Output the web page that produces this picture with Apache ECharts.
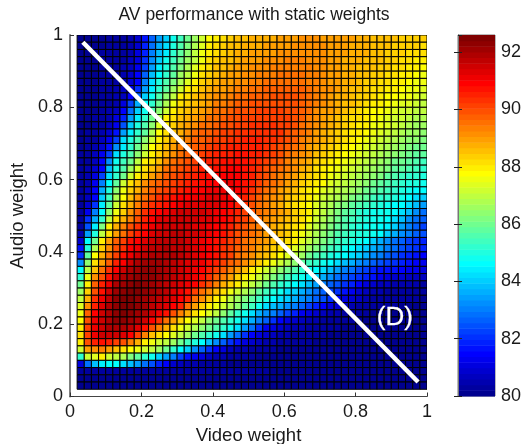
<!DOCTYPE html>
<html><head><meta charset="utf-8">
<style>html,body{margin:0;padding:0;background:#fff}#c{width:525px;height:444px}</style>
<script src="https://cdn.jsdelivr.net/npm/echarts@6/dist/echarts.min.js"></script>
</head><body><div id="c"></div>
<script>
const videoWeights=[0.04,0.06,0.08,0.10,0.12,0.14,0.16,0.18,0.20,0.22,0.24,0.26,0.28,0.30,0.32,0.34,0.36,0.38,0.40,0.42,0.44,0.46,0.48,0.50,0.52,0.54,0.56,0.58,0.60,0.62,0.64,0.66,0.68,0.70,0.72,0.74,0.76,0.78,0.80,0.82,0.84,0.86,0.88,0.90,0.92,0.94,0.96,0.98,1.00];
const audioWeights=[1.00,0.98,0.96,0.94,0.92,0.90,0.88,0.86,0.84,0.82,0.80,0.78,0.76,0.74,0.72,0.70,0.68,0.66,0.64,0.62,0.60,0.58,0.56,0.54,0.52,0.50,0.48,0.46,0.44,0.42,0.40,0.38,0.36,0.34,0.32,0.30,0.28,0.26,0.24,0.22,0.20,0.18,0.16,0.14,0.12,0.10,0.08,0.06,0.04];
const performance=[
[80.1,80.1,80.1,80.1,80.2,80.2,80.3,80.4,80.8,81.6,82.7,83.5,84.0,84.8,85.5,86.1,86.6,87.2,87.7,88.0,88.2,88.4,88.5,88.6,88.7,88.7,88.8,88.8,88.9,88.9,89.0,89.1,89.1,89.1,89.0,89.0,89.0,88.9,88.9,88.8,88.7,88.6,88.6,88.5,88.5,88.4,88.4,88.3,88.3],
[80.1,80.1,80.1,80.1,80.2,80.2,80.3,80.5,80.9,81.8,82.9,83.7,84.3,85.0,85.6,86.2,86.8,87.3,87.9,88.1,88.3,88.5,88.6,88.7,88.8,88.8,88.9,88.9,89.0,89.0,89.1,89.2,89.2,89.1,89.1,89.0,88.9,88.9,88.8,88.8,88.7,88.6,88.6,88.5,88.4,88.4,88.3,88.3,88.2],
[80.1,80.1,80.1,80.2,80.2,80.2,80.3,80.5,81.0,81.9,83.0,83.9,84.5,85.2,85.8,86.4,86.9,87.5,88.0,88.2,88.4,88.5,88.7,88.8,88.9,88.9,89.0,89.0,89.1,89.1,89.2,89.2,89.2,89.2,89.1,89.0,88.9,88.9,88.8,88.7,88.7,88.6,88.5,88.4,88.4,88.3,88.2,88.2,88.1],
[80.1,80.1,80.1,80.2,80.2,80.3,80.3,80.6,81.1,82.0,83.2,84.1,84.8,85.4,86.0,86.5,87.0,87.6,88.1,88.3,88.5,88.6,88.8,88.9,89.0,89.0,89.1,89.2,89.2,89.3,89.3,89.3,89.2,89.2,89.1,89.0,88.9,88.8,88.8,88.7,88.6,88.5,88.5,88.4,88.3,88.2,88.1,88.0,87.9],
[80.1,80.1,80.1,80.2,80.2,80.3,80.4,80.7,81.3,82.3,83.5,84.5,85.1,85.7,86.2,86.7,87.3,87.9,88.2,88.5,88.6,88.8,88.9,89.0,89.1,89.2,89.2,89.3,89.3,89.4,89.4,89.4,89.3,89.2,89.1,89.0,88.9,88.8,88.7,88.6,88.5,88.5,88.4,88.3,88.2,88.1,88.0,87.9,87.8],
[80.1,80.1,80.1,80.2,80.2,80.3,80.5,80.8,81.4,82.6,83.8,84.7,85.3,85.9,86.5,87.0,87.6,88.1,88.4,88.6,88.8,88.9,89.0,89.1,89.2,89.3,89.4,89.4,89.5,89.5,89.5,89.5,89.4,89.3,89.1,89.0,88.9,88.8,88.7,88.6,88.5,88.4,88.3,88.2,88.1,88.0,87.9,87.7,87.6],
[80.1,80.1,80.1,80.2,80.2,80.3,80.5,80.9,81.5,83.0,84.2,85.0,85.7,86.2,86.8,87.4,88.0,88.3,88.5,88.7,88.9,89.0,89.1,89.2,89.3,89.4,89.5,89.5,89.6,89.6,89.6,89.6,89.4,89.3,89.2,89.0,88.9,88.8,88.7,88.6,88.4,88.3,88.2,88.1,88.0,87.9,87.8,87.6,87.5],
[80.1,80.1,80.1,80.2,80.3,80.4,80.6,81.2,82.0,83.5,84.5,85.2,85.9,86.5,87.2,87.9,88.2,88.5,88.7,88.9,89.0,89.2,89.3,89.4,89.5,89.6,89.7,89.7,89.8,89.8,89.8,89.7,89.5,89.4,89.2,89.1,88.9,88.8,88.6,88.5,88.4,88.2,88.1,88.0,87.9,87.8,87.6,87.5,87.4],
[80.1,80.1,80.1,80.2,80.3,80.4,80.7,81.5,82.6,84.0,84.9,85.6,86.3,87.0,87.9,88.2,88.5,88.7,88.9,89.1,89.2,89.3,89.5,89.6,89.7,89.8,89.8,89.9,89.9,89.9,89.9,89.8,89.5,89.3,89.2,89.0,88.8,88.7,88.6,88.4,88.3,88.1,88.0,87.8,87.7,87.6,87.5,87.4,87.2],
[80.1,80.1,80.1,80.2,80.3,80.5,81.1,82.2,83.6,84.6,85.3,86.0,86.7,87.6,88.1,88.4,88.6,88.8,89.0,89.3,89.4,89.6,89.7,89.8,89.9,89.9,90.0,90.0,90.0,90.0,89.9,89.7,89.5,89.3,89.1,88.9,88.8,88.6,88.5,88.3,88.1,88.0,87.9,87.7,87.6,87.4,87.3,87.2,87.0],
[80.1,80.1,80.1,80.2,80.4,80.7,81.5,82.8,84.0,84.9,85.6,86.3,87.2,88.0,88.3,88.6,88.8,89.0,89.2,89.5,89.6,89.8,89.9,90.0,90.0,90.1,90.1,90.1,90.1,90.0,89.9,89.7,89.5,89.2,89.0,88.9,88.7,88.5,88.3,88.2,88.0,87.8,87.7,87.5,87.4,87.2,87.1,87.0,86.9],
[80.1,80.1,80.2,80.2,80.5,81.0,81.9,83.5,84.5,85.2,86.0,86.8,87.9,88.2,88.5,88.8,89.0,89.2,89.5,89.6,89.8,89.9,90.0,90.1,90.2,90.2,90.2,90.2,90.2,90.1,89.9,89.7,89.4,89.2,89.0,88.8,88.6,88.4,88.2,88.1,87.9,87.7,87.6,87.4,87.2,87.1,87.0,86.8,86.7],
[80.1,80.1,80.2,80.3,80.6,81.3,82.4,84.1,85.0,85.6,86.3,87.3,88.0,88.3,88.7,88.9,89.1,89.5,89.6,89.8,89.9,90.0,90.1,90.2,90.3,90.3,90.3,90.3,90.2,90.1,89.9,89.6,89.4,89.1,88.9,88.7,88.5,88.3,88.2,88.0,87.9,87.6,87.5,87.3,87.1,87.0,86.8,86.6,86.5],
[80.1,80.2,80.2,80.4,80.9,81.6,83.4,84.5,85.2,85.9,86.7,87.7,88.2,88.5,88.8,89.1,89.5,89.7,89.8,90.0,90.1,90.2,90.3,90.4,90.4,90.4,90.4,90.3,90.3,90.0,89.8,89.5,89.3,89.0,88.8,88.6,88.4,88.2,88.0,87.9,87.7,87.5,87.3,87.1,87.0,86.8,86.6,86.5,86.3],
[80.1,80.2,80.3,80.6,81.2,82.2,84.2,85.0,85.6,86.3,87.2,88.0,88.4,88.7,89.0,89.4,89.7,89.8,90.0,90.1,90.2,90.3,90.4,90.5,90.5,90.5,90.4,90.3,90.1,89.9,89.7,89.4,89.1,88.9,88.7,88.5,88.3,88.1,87.9,87.7,87.6,87.3,87.1,87.0,86.8,86.6,86.4,86.3,86.2],
[80.1,80.2,80.4,80.9,81.6,83.3,84.5,85.3,86.0,86.7,87.7,88.2,88.6,88.9,89.3,89.6,89.8,90.0,90.1,90.3,90.4,90.5,90.6,90.6,90.6,90.5,90.4,90.2,90.0,89.7,89.5,89.3,89.0,88.8,88.6,88.4,88.2,87.9,87.7,87.5,87.4,87.1,87.0,86.8,86.6,86.4,86.2,86.1,86.0],
[80.2,80.3,80.6,81.2,82.3,84.3,85.1,85.7,86.4,87.2,88.0,88.4,88.8,89.2,89.6,89.8,90.0,90.2,90.3,90.5,90.6,90.6,90.7,90.7,90.6,90.5,90.3,90.1,89.9,89.5,89.3,89.1,88.9,88.6,88.4,88.2,88.0,87.7,87.5,87.3,87.1,86.9,86.8,86.6,86.4,86.2,86.0,85.9,85.8],
[80.2,80.3,80.7,81.4,83.3,84.8,85.4,86.1,86.9,87.9,88.2,88.6,89.1,89.5,89.8,90.0,90.2,90.3,90.5,90.6,90.7,90.8,90.8,90.7,90.6,90.4,90.2,89.9,89.7,89.4,89.2,89.0,88.7,88.4,88.2,88.0,87.8,87.5,87.3,87.1,86.9,86.7,86.6,86.4,86.1,86.0,85.8,85.6,85.5],
[80.2,80.4,80.8,81.5,83.8,85.0,85.7,86.5,87.4,88.1,88.5,89.0,89.5,89.7,90.0,90.2,90.4,90.5,90.6,90.7,90.8,90.9,90.9,90.8,90.6,90.3,90.0,89.8,89.5,89.3,89.1,88.8,88.5,88.2,88.0,87.8,87.5,87.3,87.1,86.9,86.7,86.5,86.4,86.2,85.9,85.8,85.6,85.4,85.3],
[80.2,80.4,81.0,82.2,84.3,85.3,86.1,87.2,88.0,88.4,88.9,89.4,89.7,89.9,90.2,90.4,90.5,90.7,90.8,90.9,91.0,91.0,91.0,90.8,90.5,90.2,89.9,89.6,89.4,89.1,88.9,88.6,88.3,88.1,87.9,87.6,87.3,87.1,86.9,86.7,86.5,86.3,86.2,85.9,85.7,85.5,85.3,85.2,85.1],
[80.2,80.5,81.2,83.0,84.7,85.8,87.2,88.1,88.6,89.1,89.5,89.8,90.0,90.2,90.4,90.6,90.7,90.8,90.9,91.0,91.1,91.1,91.0,90.8,90.5,90.1,89.8,89.5,89.3,89.0,88.7,88.4,88.2,87.9,87.7,87.4,87.1,86.9,86.7,86.5,86.3,86.1,85.9,85.7,85.5,85.3,85.1,85.0,84.9],
[80.2,80.6,81.4,83.6,85.0,86.3,87.6,88.3,88.8,89.3,89.7,90.0,90.2,90.4,90.6,90.7,90.9,91.0,91.1,91.2,91.2,91.1,90.9,90.7,90.3,89.9,89.6,89.3,89.0,88.8,88.5,88.2,88.0,87.7,87.4,87.2,86.9,86.7,86.5,86.3,86.0,85.8,85.6,85.4,85.2,85.0,84.8,84.7,84.7],
[80.2,80.7,81.5,84.0,85.4,86.7,87.8,88.5,89.1,89.6,90.0,90.3,90.5,90.7,90.9,91.0,91.1,91.2,91.3,91.3,91.2,91.0,90.8,90.5,90.2,89.8,89.4,89.2,88.9,88.6,88.3,88.1,87.9,87.5,87.2,87.0,86.7,86.5,86.2,86.0,85.8,85.5,85.3,85.2,85.0,84.8,84.7,84.3,84.1],
[80.2,80.9,82.0,84.4,85.9,87.1,88.1,88.8,89.4,89.9,90.3,90.6,90.8,91.0,91.2,91.3,91.4,91.4,91.4,91.3,91.1,90.9,90.6,90.3,90.0,89.6,89.3,89.0,88.7,88.4,88.2,87.9,87.7,87.3,87.0,86.7,86.4,86.2,85.9,85.7,85.5,85.3,85.0,84.8,84.7,84.6,84.3,83.8,83.4],
[80.3,81.2,83.0,84.7,86.4,87.6,88.4,89.1,89.7,90.3,90.7,91.0,91.2,91.4,91.5,91.5,91.5,91.5,91.4,91.2,91.0,90.8,90.5,90.2,89.9,89.6,89.3,89.1,88.9,88.7,88.4,88.2,87.9,87.4,87.0,86.6,86.2,85.9,85.6,85.3,85.1,84.9,84.8,84.8,84.7,84.3,83.8,83.3,82.9],
[80.3,82.0,83.6,85.2,86.9,88.1,88.8,89.4,90.0,90.6,91.0,91.3,91.4,91.5,91.5,91.5,91.5,91.4,91.3,91.1,90.9,90.7,90.4,90.1,89.8,89.5,89.2,88.9,88.7,88.5,88.3,88.1,87.7,87.2,86.8,86.4,86.0,85.7,85.4,85.2,85.0,84.9,84.8,84.7,84.3,83.8,83.3,82.9,82.6],
[80.3,82.5,84.4,86.2,87.9,88.7,89.4,89.9,90.3,90.8,91.1,91.3,91.5,91.6,91.6,91.5,91.4,91.3,91.1,91.0,90.8,90.6,90.2,89.9,89.6,89.3,89.1,88.8,88.6,88.3,88.1,87.9,87.4,87.0,86.6,86.2,85.9,85.6,85.3,85.1,84.9,84.8,84.7,84.4,84.0,83.5,83.1,82.7,82.3],
[80.4,83.4,85.0,87.0,88.2,89.0,89.6,90.2,90.6,91.0,91.3,91.5,91.6,91.7,91.7,91.6,91.5,91.3,91.1,90.9,90.7,90.4,90.0,89.8,89.6,89.3,89.0,88.8,88.5,88.3,88.0,87.6,87.1,86.7,86.3,86.0,85.7,85.5,85.3,85.1,85.0,84.9,84.7,84.1,83.7,83.3,83.0,82.7,82.4],
[80.8,84.7,86.1,88.0,88.9,89.7,90.2,90.7,91.0,91.3,91.6,91.7,91.8,91.8,91.7,91.6,91.4,91.2,91.0,90.7,90.5,90.2,89.9,89.6,89.3,89.1,88.9,88.6,88.4,88.1,87.9,87.4,87.0,86.6,86.2,85.9,85.5,85.2,85.0,84.8,84.6,84.1,83.7,83.3,82.9,82.6,82.3,82.1,81.9],
[81.6,85.0,86.8,88.3,89.2,89.9,90.4,90.9,91.2,91.5,91.7,91.8,91.9,91.8,91.7,91.5,91.3,91.1,90.9,90.7,90.4,90.1,89.8,89.5,89.3,89.0,88.7,88.4,88.2,87.9,87.4,87.0,86.5,86.2,85.8,85.5,85.2,84.9,84.6,84.3,84.0,83.7,83.4,83.1,82.8,82.5,82.2,82.0,81.8],
[82.0,85.8,87.8,88.7,89.5,90.2,90.7,91.2,91.5,91.8,91.9,92.0,92.0,91.9,91.7,91.5,91.3,91.2,91.0,90.7,90.4,90.1,89.6,89.4,89.1,88.8,88.5,88.1,87.7,87.3,86.9,86.5,86.1,85.7,85.4,85.1,84.9,84.6,84.3,84.0,83.7,83.3,83.0,82.7,82.4,82.1,81.9,81.7,81.5],
[83.3,86.3,88.1,89.0,89.8,90.5,91.0,91.5,91.9,92.1,92.1,92.1,92.0,91.8,91.6,91.4,91.3,91.1,90.8,90.5,90.2,89.8,89.5,89.1,88.7,88.3,87.9,87.5,87.1,86.7,86.3,85.9,85.5,85.2,84.9,84.7,84.3,83.9,83.6,83.3,83.0,82.7,82.4,82.2,82.0,81.8,81.6,81.4,81.3],
[84.7,87.0,88.6,89.5,90.3,91.0,91.6,92.0,92.2,92.3,92.3,92.2,92.0,91.8,91.6,91.4,91.2,91.0,90.6,90.2,89.8,89.4,89.0,88.5,88.0,87.6,87.2,86.8,86.4,86.0,85.6,85.2,84.9,84.6,84.2,83.8,83.4,83.1,82.8,82.5,82.2,81.9,81.7,81.6,81.6,81.5,81.3,81.2,81.1],
[85.3,87.6,89.2,90.0,90.8,91.5,92.0,92.2,92.4,92.4,92.3,92.1,91.9,91.7,91.5,91.3,91.1,90.7,90.3,89.8,89.4,88.9,88.4,87.9,87.5,87.1,86.7,86.2,85.8,85.4,85.0,84.8,84.4,84.0,83.6,83.2,82.9,82.6,82.3,82.0,81.8,81.6,81.3,81.0,80.9,80.8,80.7,80.6,80.6],
[86.0,88.0,89.7,90.5,91.2,91.9,92.2,92.4,92.5,92.4,92.2,92.0,91.8,91.6,91.4,91.2,90.9,90.4,89.9,89.3,88.8,88.3,87.9,87.4,87.0,86.6,86.1,85.7,85.3,85.0,84.7,84.2,83.8,83.4,83.0,82.7,82.4,82.1,81.8,81.5,81.1,80.9,80.7,80.6,80.5,80.5,80.4,80.4,80.3],
[86.5,88.4,90.0,90.8,91.6,92.2,92.4,92.5,92.5,92.3,92.1,91.9,91.7,91.4,91.1,90.7,90.2,89.6,89.1,88.6,88.1,87.6,87.2,86.8,86.3,85.9,85.5,85.1,84.8,84.3,84.0,83.6,83.2,82.9,82.6,82.3,82.0,81.6,81.2,80.9,80.7,80.5,80.4,80.3,80.3,80.3,80.2,80.2,80.2],
[86.9,88.8,90.3,91.1,91.8,92.3,92.5,92.5,92.4,92.2,92.0,91.8,91.5,91.3,91.0,90.5,89.6,89.1,88.5,87.9,87.5,87.0,86.6,86.2,85.8,85.4,85.0,84.7,84.3,84.0,83.6,83.3,83.0,82.7,82.4,82.0,81.5,81.1,80.8,80.6,80.4,80.3,80.3,80.2,80.2,80.2,80.2,80.2,80.1],
[87.3,89.2,90.6,91.3,91.9,92.3,92.5,92.5,92.4,92.1,91.8,91.6,91.4,91.0,90.6,89.5,89.0,88.4,88.0,87.5,87.1,86.7,86.3,85.9,85.4,84.8,84.3,83.9,83.6,83.3,83.0,82.7,82.3,81.9,81.5,81.1,80.8,80.6,80.4,80.3,80.3,80.2,80.2,80.2,80.2,80.1,80.1,80.1,80.1],
[87.6,89.8,90.9,91.5,92.0,92.3,92.5,92.4,92.2,91.9,91.6,91.2,90.8,90.0,89.3,88.7,88.1,87.7,87.3,86.9,86.4,85.9,85.3,84.8,84.2,83.7,83.3,83.0,82.6,82.2,81.8,81.3,81.0,80.8,80.6,80.5,80.4,80.3,80.2,80.2,80.2,80.1,80.1,80.1,80.1,80.1,80.1,80.1,80.1],
[87.7,90.0,91.1,91.6,92.0,92.3,92.3,92.2,92.0,91.6,91.0,90.3,89.6,89.0,88.4,87.8,87.3,86.9,86.4,86.0,85.6,85.2,84.9,84.3,83.7,83.1,82.6,82.1,81.5,81.1,80.9,80.7,80.5,80.4,80.3,80.3,80.2,80.2,80.2,80.1,80.1,80.1,80.1,80.1,80.1,80.1,80.1,80.1,80.1],
[88.0,90.1,91.1,91.6,91.9,92.0,92.0,91.8,91.4,90.8,90.0,89.4,88.7,88.1,87.6,87.2,86.8,86.4,86.0,85.6,85.2,84.8,84.2,83.5,82.8,82.0,81.3,81.0,80.8,80.6,80.5,80.4,80.3,80.3,80.2,80.2,80.2,80.1,80.1,80.1,80.1,80.1,80.1,80.1,80.1,80.1,80.1,80.1,80.1],
[88.2,90.2,91.1,91.5,91.6,91.6,91.4,91.0,90.1,89.3,88.6,88.1,87.7,87.3,87.0,86.5,86.1,85.6,85.2,84.8,84.2,83.5,82.8,82.1,81.5,81.1,80.8,80.6,80.5,80.4,80.3,80.3,80.2,80.2,80.2,80.1,80.1,80.1,80.1,80.1,80.1,80.1,80.1,80.1,80.1,80.1,80.1,80.1,80.1],
[88.0,89.9,90.6,90.8,90.6,90.2,90.0,89.4,88.7,87.9,87.5,87.2,86.9,86.5,86.0,85.5,85.0,84.6,83.9,83.2,82.6,82.0,81.6,81.1,80.8,80.6,80.5,80.4,80.3,80.3,80.2,80.2,80.2,80.1,80.1,80.1,80.1,80.1,80.1,80.1,80.1,80.1,80.1,80.1,80.1,80.1,80.1,80.1,80.1],
[87.2,88.9,89.2,89.4,89.0,88.6,88.2,87.8,87.5,87.2,86.9,86.5,86.0,85.3,84.7,84.0,83.3,82.7,82.0,81.4,81.0,80.7,80.5,80.4,80.3,80.3,80.2,80.2,80.1,80.1,80.1,80.1,80.1,80.1,80.1,80.1,80.1,80.1,80.1,80.1,80.1,80.1,80.1,80.1,80.1,80.1,80.1,80.1,80.1],
[85.2,87.1,87.4,87.9,87.2,86.9,86.7,86.2,85.8,85.3,84.8,84.0,83.5,83.0,82.3,81.7,81.3,81.0,80.7,80.5,80.4,80.3,80.3,80.2,80.2,80.1,80.1,80.1,80.1,80.1,80.1,80.1,80.1,80.1,80.1,80.1,80.1,80.1,80.1,80.1,80.1,80.1,80.1,80.1,80.1,80.1,80.1,80.1,80.1],
[81.0,82.8,83.8,84.4,84.6,84.6,84.2,83.8,83.4,82.9,82.4,81.9,81.4,80.9,80.6,80.5,80.4,80.3,80.3,80.2,80.2,80.1,80.1,80.1,80.1,80.1,80.1,80.1,80.1,80.1,80.1,80.1,80.1,80.1,80.1,80.1,80.1,80.1,80.1,80.1,80.1,80.1,80.1,80.1,80.1,80.1,80.1,80.1,80.1],
[80.2,80.2,80.2,80.2,80.2,80.2,80.2,80.2,80.2,80.2,80.2,80.2,80.2,80.2,80.2,80.2,80.2,80.2,80.2,80.2,80.2,80.2,80.2,80.2,80.2,80.2,80.2,80.1,80.1,80.1,80.1,80.1,80.1,80.1,80.1,80.1,80.1,80.1,80.1,80.1,80.1,80.1,80.1,80.1,80.1,80.1,80.1,80.1,80.1],
[80.1,80.1,80.1,80.1,80.1,80.1,80.1,80.1,80.1,80.1,80.1,80.1,80.1,80.1,80.1,80.1,80.1,80.1,80.1,80.1,80.1,80.1,80.1,80.1,80.1,80.1,80.1,80.1,80.1,80.1,80.1,80.1,80.1,80.1,80.1,80.1,80.1,80.1,80.1,80.1,80.1,80.1,80.1,80.1,80.1,80.1,80.1,80.1,80.1],
[80.1,80.1,80.1,80.1,80.1,80.1,80.1,80.1,80.1,80.1,80.1,80.1,80.1,80.1,80.1,80.1,80.1,80.1,80.1,80.1,80.1,80.1,80.1,80.1,80.1,80.1,80.1,80.1,80.1,80.1,80.1,80.1,80.1,80.1,80.1,80.1,80.1,80.1,80.1,80.1,80.1,80.1,80.1,80.1,80.1,80.1,80.1,80.1,80.1]
];
const axisTicks=[0,0.2,0.4,0.6,0.8,1];
const colorTicks=[80,82,84,86,88,90,92];
const colorMin=80,colorMax=92.6,colorLevels=64;
const diagonalLine=[[0.036,0.98],[0.975,0.04]];
const annotation=[[0.91,0.218]];

function jet(v){
  const lvl=Math.max(0,Math.min(colorLevels-1,Math.floor((v-colorMin)/(colorMax-colorMin)*colorLevels)));
  const t=(lvl+1)/colorLevels;
  const c=x=>Math.round(255*Math.max(0,Math.min(1,x)));
  return 'rgb('+c(Math.min(4*t-1.5,-4*t+4.5))+','+c(Math.min(4*t-0.5,-4*t+3.5))+','+c(Math.min(4*t+0.5,-4*t+2.5))+')';
}
const cellData=[];
performance.forEach((row,r)=>row.forEach((v,c)=>cellData.push([videoWeights[c],audioWeights[r],v])));
const barData=[];
for(let i=0;i<colorLevels;i++){
  const a=colorMin+(colorMax-colorMin)*i/colorLevels,b=colorMin+(colorMax-colorMin)*(i+1)/colorLevels;
  barData.push([a,b]);
}
const F='"Liberation Sans",Arial,sans-serif',TXT='#1a1a1a';
const chart=echarts.init(document.getElementById('c'),null,{renderer:'canvas'});
const mainAxis=(name,gap,rot,labelAlign)=>({
  type:'value',min:0,max:1,interval:0.2,name:name,nameLocation:'middle',nameGap:gap,nameRotate:rot,
  nameTextStyle:{fontFamily:F,fontSize:18.5,color:TXT},
  axisLine:{show:true,onZero:false,lineStyle:{color:'#444',width:1.2}},
  axisTick:{show:true,inside:true,length:4,lineStyle:{color:'#333',width:1}},
  axisLabel:Object.assign({show:true,fontFamily:F,fontSize:18,color:TXT,margin:7,formatter:v=>String(axisTicks.find(t=>Math.abs(t-v)<1e-6))},labelAlign),
  splitLine:{show:false}
});
chart.setOption({
  animation:false,
  backgroundColor:'#fff',
  title:{text:'AV performance with static weights',left:249,top:1,textAlign:'center',textStyle:{fontFamily:F,fontSize:17.5,fontWeight:'normal',color:TXT}},
  grid:[
    {left:70,top:35,width:357,height:361.5,outerBoundsMode:'none',containLabel:false},
    {left:458,top:35,width:37,height:361,outerBoundsMode:'none',containLabel:false,show:true,borderColor:'#777',borderWidth:1,backgroundColor:'transparent'}
  ],
  xAxis:[
    mainAxis('Video weight',27,0,{alignMinLabel:'center',alignMaxLabel:'center'}),
    {gridIndex:1,type:'value',min:0,max:1,show:false}
  ],
  yAxis:[
    Object.assign(mainAxis('Audio weight',33,90,{verticalAlignMinLabel:'middle',verticalAlignMaxLabel:'middle'}),{axisLine:{show:true,onZero:false,lineStyle:{color:'#808080',width:2}}}),
    {gridIndex:1,type:'value',min:colorMin,max:colorMax,interval:2,position:'right',z:3,
      axisLine:{show:true,lineStyle:{color:'#777'}},
      axisTick:{show:true,inside:true,length:4,lineStyle:{color:'#222'}},
      axisLabel:{fontFamily:F,fontSize:18,color:TXT,margin:6,showMaxLabel:false,verticalAlignMinLabel:'middle',formatter:v=>colorTicks.includes(v)?String(v):''},
      splitLine:{show:false}},
    {gridIndex:1,type:'value',min:colorMin,max:colorMax,interval:2,position:'left',z:3,
      axisLine:{show:true,lineStyle:{color:'#777'}},
      axisTick:{show:true,inside:true,length:4,lineStyle:{color:'#222'}},
      axisLabel:{show:false},splitLine:{show:false}}
  ],
  series:[
    {type:'custom',xAxisIndex:0,yAxisIndex:0,data:cellData,encode:{x:0,y:1},silent:true,clip:true,
     renderItem:(p,api)=>{
       const x=api.value(0),y=api.value(1),v=api.value(2);
       const a=api.coord([x-0.02,y]),b=api.coord([x,y-0.02]);
       return {type:'rect',shape:{x:a[0],y:a[1],width:b[0]-a[0],height:b[1]-a[1]},
         style:{fill:jet(v),stroke:'#000',lineWidth:1}};
     }},
    {type:'line',xAxisIndex:0,yAxisIndex:0,data:diagonalLine,symbol:'none',z:5,silent:true,
     lineStyle:{color:'#fff',width:4.5,cap:'butt'}},
    {type:'scatter',xAxisIndex:0,yAxisIndex:0,data:annotation,symbolSize:0,z:6,silent:true,
     label:{show:true,position:'inside',formatter:'(D)',fontFamily:F,fontSize:26,color:'#fff',opacity:1,textBorderColor:'#fff',textBorderWidth:0.3}},
    {type:'custom',xAxisIndex:1,yAxisIndex:1,data:barData,encode:{y:[0,1]},silent:true,z:1,
     renderItem:(p,api)=>{
       const lo=api.value(0),hi=api.value(1);
       const a=api.coord([0,hi]),b=api.coord([1,lo]);
       return {type:'rect',shape:{x:a[0],y:a[1],width:b[0]-a[0],height:b[1]-a[1]+0.5},
         style:{fill:jet((lo+hi)/2)}};
     }}
  ]
});
</script></body></html>
